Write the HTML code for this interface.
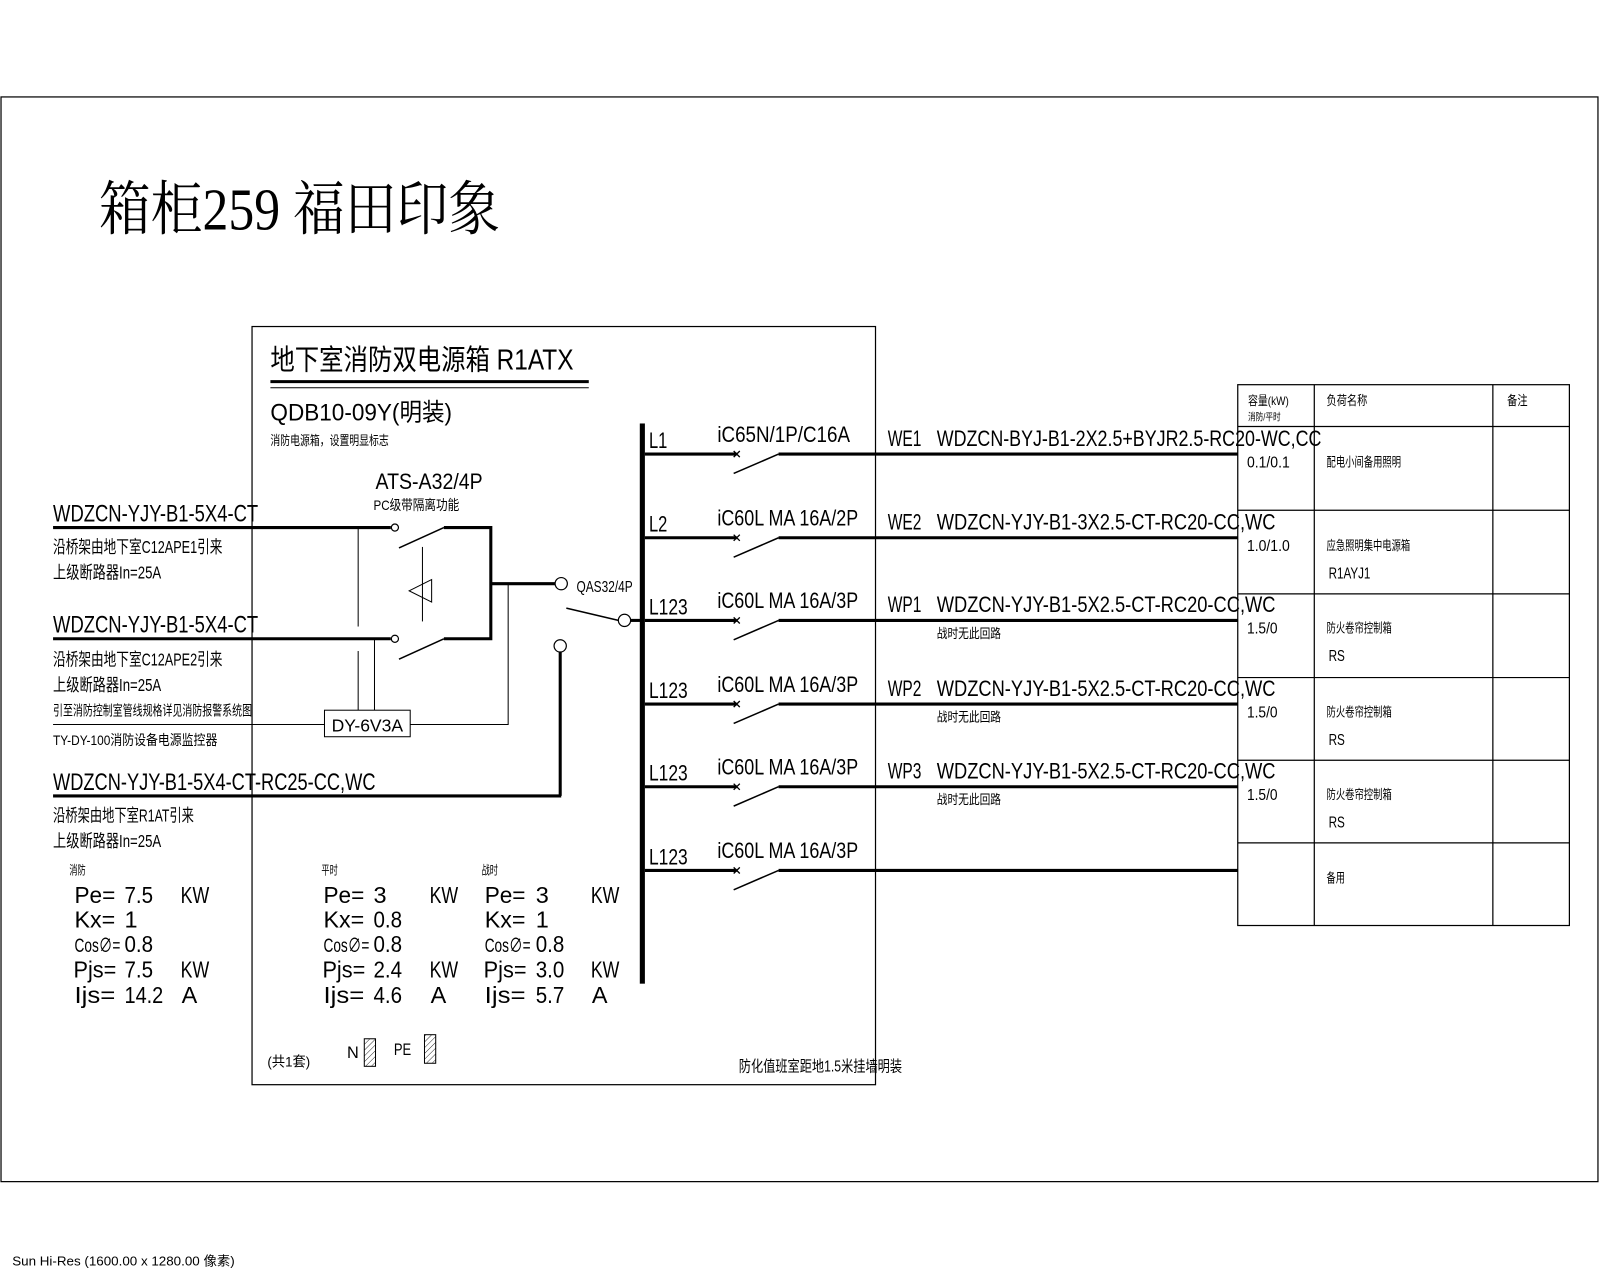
<!DOCTYPE html>
<html><head><meta charset="utf-8"><style>
html,body{margin:0;padding:0;background:#fff;width:1600px;height:1280px;overflow:hidden}
svg{display:block}
text{font-family:"Liberation Sans","Noto Sans CJK SC",sans-serif;fill:#000}
.s{font-family:"Liberation Serif","Noto Serif CJK SC",serif}
</style></head><body>
<svg width="1600" height="1280" viewBox="0 0 1568 1254.4" xmlns="http://www.w3.org/2000/svg">
<defs><pattern id="h" width="4" height="4" patternUnits="userSpaceOnUse" patternTransform="rotate(45)"><line x1="0" y1="0" x2="0" y2="4" stroke="#000" stroke-width="0.8"/></pattern></defs>
<rect x="1" y="95" width="1565" height="1063" fill="none" stroke="#000" stroke-width="1.2"/>
<text x="12" y="1240" font-size="13" textLength="218" lengthAdjust="spacingAndGlyphs">Sun Hi-Res (1600.00 x 1280.00 像素)</text>
<text class="s" x="97" y="225" font-size="58" textLength="393" lengthAdjust="spacingAndGlyphs">箱柜259 福田印象</text>

<rect x="247" y="320" width="611" height="743" fill="none" stroke="#000" stroke-width="1.2"/>
<text x="265" y="362" font-size="28" textLength="297" lengthAdjust="spacingAndGlyphs">地下室消防双电源箱 R1ATX</text>
<line x1="265" y1="374" x2="577" y2="374" stroke="#000" stroke-width="3"/>
<line x1="265" y1="380" x2="577" y2="380" stroke="#000" stroke-width="1"/>
<text x="265" y="412" font-size="24" textLength="178" lengthAdjust="spacingAndGlyphs">QDB10-09Y(明装)</text>
<text x="265" y="436" font-size="13" textLength="116" lengthAdjust="spacingAndGlyphs">消防电源箱，设置明显标志</text>

<text x="368" y="479" font-size="22" textLength="105" lengthAdjust="spacingAndGlyphs">ATS-A32/4P</text>
<text x="366" y="500" font-size="14" textLength="84" lengthAdjust="spacingAndGlyphs">PC级带隔离功能</text>

<!-- inputs -->
<text x="52" y="511" font-size="24" textLength="201" lengthAdjust="spacingAndGlyphs">WDZCN-YJY-B1-5X4-CT</text>
<line x1="52" y1="517" x2="383" y2="517" stroke="#000" stroke-width="3"/>
<circle cx="387" cy="517" r="3.5" fill="#fff" stroke="#000" stroke-width="1.2"/>
<text x="52" y="542" font-size="17" textLength="166" lengthAdjust="spacingAndGlyphs">沿桥架由地下室C12APE1引来</text>
<text x="52" y="567" font-size="17" textLength="106" lengthAdjust="spacingAndGlyphs">上级断路器In=25A</text>

<text x="52" y="620" font-size="24" textLength="201" lengthAdjust="spacingAndGlyphs">WDZCN-YJY-B1-5X4-CT</text>
<line x1="52" y1="626" x2="383" y2="626" stroke="#000" stroke-width="3"/>
<circle cx="387" cy="626" r="3.5" fill="#fff" stroke="#000" stroke-width="1.2"/>
<text x="52" y="652" font-size="17" textLength="166" lengthAdjust="spacingAndGlyphs">沿桥架由地下室C12APE2引来</text>
<text x="52" y="677" font-size="17" textLength="106" lengthAdjust="spacingAndGlyphs">上级断路器In=25A</text>
<text x="52" y="701" font-size="14" textLength="195" lengthAdjust="spacingAndGlyphs">引至消防控制室管线规格详见消防报警系统图</text>
<text x="52" y="730" font-size="14" textLength="161" lengthAdjust="spacingAndGlyphs">TY-DY-100消防设备电源监控器</text>

<g stroke="#000" stroke-width="1" fill="none">
<line x1="351" y1="517" x2="351" y2="614"/>
<line x1="351" y1="638" x2="351" y2="696"/>
<line x1="367" y1="626" x2="367" y2="696"/>
<rect x="318" y="696" width="84" height="26"/>
<line x1="52" y1="710" x2="318" y2="710"/>
<polyline points="402,710 498,710 498,572"/>
<line x1="391" y1="537" x2="435" y2="517" stroke-width="1.5"/>
<line x1="391" y1="646" x2="435" y2="626" stroke-width="1.5"/>
<line x1="414" y1="536" x2="414" y2="609"/>
<polygon points="401,579 423,568 423,590"/>
</g>
<text x="325" y="717" font-size="17" textLength="70" lengthAdjust="spacingAndGlyphs">DY-6V3A</text>
<g stroke="#000" stroke-width="3" fill="none">
<polyline points="435,517 481,517 481,626 435,626"/>
<line x1="481" y1="572" x2="544" y2="572"/>
<line x1="549" y1="639" x2="549" y2="780"/>
<line x1="52" y1="780" x2="550" y2="780"/>
<line x1="618" y1="608" x2="630" y2="608"/>
</g>
<circle cx="550" cy="572" r="6" fill="#fff" stroke="#000" stroke-width="1.2"/>
<line x1="555" y1="596" x2="606" y2="608" stroke="#000" stroke-width="1.5"/>
<circle cx="612" cy="608" r="6" fill="#fff" stroke="#000" stroke-width="1.2"/>
<circle cx="549" cy="633" r="6" fill="#fff" stroke="#000" stroke-width="1.2"/>
<text x="565" y="580" font-size="15" textLength="55" lengthAdjust="spacingAndGlyphs">QAS32/4P</text>

<text x="52" y="774" font-size="24" textLength="316" lengthAdjust="spacingAndGlyphs">WDZCN-YJY-B1-5X4-CT-RC25-CC,WC</text>
<text x="52" y="805" font-size="17" textLength="138" lengthAdjust="spacingAndGlyphs">沿桥架由地下室R1AT引来</text>
<text x="52" y="830" font-size="17" textLength="106" lengthAdjust="spacingAndGlyphs">上级断路器In=25A</text>

<!-- stats -->
<g font-size="23">
<text x="68" y="857" font-size="12" textLength="16" lengthAdjust="spacingAndGlyphs">消防</text>
<text x="315" y="857" font-size="12" textLength="16" lengthAdjust="spacingAndGlyphs">平时</text>
<text x="472" y="857" font-size="12" textLength="16" lengthAdjust="spacingAndGlyphs">战时</text>

<text x="73" y="885" textLength="40" lengthAdjust="spacingAndGlyphs">Pe=</text><text x="122" y="885" textLength="28" lengthAdjust="spacingAndGlyphs">7.5</text><text x="177" y="885" textLength="28" lengthAdjust="spacingAndGlyphs">KW</text>
<text x="73" y="909" textLength="40" lengthAdjust="spacingAndGlyphs">Kx=</text><text x="122" y="909">1</text>
<text x="73" y="933" font-size="19" textLength="45" lengthAdjust="spacingAndGlyphs">Cos∅=</text><text x="122" y="933" textLength="28" lengthAdjust="spacingAndGlyphs">0.8</text>
<text x="72" y="958" textLength="42" lengthAdjust="spacingAndGlyphs">Pjs=</text><text x="122" y="958" textLength="28" lengthAdjust="spacingAndGlyphs">7.5</text><text x="177" y="958" textLength="28" lengthAdjust="spacingAndGlyphs">KW</text>
<text x="73" y="983" textLength="40" lengthAdjust="spacingAndGlyphs">Ijs=</text><text x="122" y="983" textLength="38" lengthAdjust="spacingAndGlyphs">14.2</text><text x="178" y="983">A</text>

<text x="317" y="885" textLength="40" lengthAdjust="spacingAndGlyphs">Pe=</text><text x="366" y="885">3</text><text x="421" y="885" textLength="28" lengthAdjust="spacingAndGlyphs">KW</text>
<text x="317" y="909" textLength="40" lengthAdjust="spacingAndGlyphs">Kx=</text><text x="366" y="909" textLength="28" lengthAdjust="spacingAndGlyphs">0.8</text>
<text x="317" y="933" font-size="19" textLength="45" lengthAdjust="spacingAndGlyphs">Cos∅=</text><text x="366" y="933" textLength="28" lengthAdjust="spacingAndGlyphs">0.8</text>
<text x="316" y="958" textLength="42" lengthAdjust="spacingAndGlyphs">Pjs=</text><text x="366" y="958" textLength="28" lengthAdjust="spacingAndGlyphs">2.4</text><text x="421" y="958" textLength="28" lengthAdjust="spacingAndGlyphs">KW</text>
<text x="317" y="983" textLength="40" lengthAdjust="spacingAndGlyphs">Ijs=</text><text x="366" y="983" textLength="28" lengthAdjust="spacingAndGlyphs">4.6</text><text x="422" y="983">A</text>

<text x="475" y="885" textLength="40" lengthAdjust="spacingAndGlyphs">Pe=</text><text x="525" y="885">3</text><text x="579" y="885" textLength="28" lengthAdjust="spacingAndGlyphs">KW</text>
<text x="475" y="909" textLength="40" lengthAdjust="spacingAndGlyphs">Kx=</text><text x="525" y="909">1</text>
<text x="475" y="933" font-size="19" textLength="45" lengthAdjust="spacingAndGlyphs">Cos∅=</text><text x="525" y="933" textLength="28" lengthAdjust="spacingAndGlyphs">0.8</text>
<text x="474" y="958" textLength="42" lengthAdjust="spacingAndGlyphs">Pjs=</text><text x="525" y="958" textLength="28" lengthAdjust="spacingAndGlyphs">3.0</text><text x="579" y="958" textLength="28" lengthAdjust="spacingAndGlyphs">KW</text>
<text x="475" y="983" textLength="40" lengthAdjust="spacingAndGlyphs">Ijs=</text><text x="525" y="983" textLength="28" lengthAdjust="spacingAndGlyphs">5.7</text><text x="580" y="983">A</text>
</g>
<text x="262" y="1045" font-size="14" textLength="42" lengthAdjust="spacingAndGlyphs">(共1套)</text>
<text x="340" y="1037" font-size="16">N</text>
<rect x="357" y="1018" width="11" height="27" fill="url(#h)" stroke="#000" stroke-width="1"/>
<text x="386" y="1034" font-size="16" textLength="17" lengthAdjust="spacingAndGlyphs">PE</text>
<rect x="416" y="1014" width="11" height="28" fill="url(#h)" stroke="#000" stroke-width="1"/>
<text x="724" y="1050" font-size="15" textLength="160" lengthAdjust="spacingAndGlyphs">防化值班室距地1.5米挂墙明装</text>

<!-- busbar -->
<rect x="627" y="415" width="5" height="549" fill="#000"/>

<!-- circuits -->
<g id="c1">
<text x="636" y="439" font-size="22" textLength="18" lengthAdjust="spacingAndGlyphs">L1</text>
<text x="703" y="433" font-size="22" textLength="130" lengthAdjust="spacingAndGlyphs">iC65N/1P/C16A</text>
<text x="870" y="437" font-size="22" textLength="33" lengthAdjust="spacingAndGlyphs">WE1</text>
<text x="918" y="437" font-size="22" textLength="377" lengthAdjust="spacingAndGlyphs">WDZCN-BYJ-B1-2X2.5+BYJR2.5-RC20-WC,CC</text>
</g>
<text x="636" y="521" font-size="22" textLength="18" lengthAdjust="spacingAndGlyphs">L2</text>
<text x="703" y="515" font-size="22" textLength="138" lengthAdjust="spacingAndGlyphs">iC60L MA 16A/2P</text>
<text x="870" y="519" font-size="22" textLength="33" lengthAdjust="spacingAndGlyphs">WE2</text>
<text x="918" y="519" font-size="22" textLength="332" lengthAdjust="spacingAndGlyphs">WDZCN-YJY-B1-3X2.5-CT-RC20-CC,WC</text>

<text x="636" y="602" font-size="22" textLength="38" lengthAdjust="spacingAndGlyphs">L123</text>
<text x="703" y="596" font-size="22" textLength="138" lengthAdjust="spacingAndGlyphs">iC60L MA 16A/3P</text>
<text x="870" y="600" font-size="22" textLength="33" lengthAdjust="spacingAndGlyphs">WP1</text>
<text x="918" y="600" font-size="22" textLength="332" lengthAdjust="spacingAndGlyphs">WDZCN-YJY-B1-5X2.5-CT-RC20-CC,WC</text>
<text x="918" y="625" font-size="13" textLength="63" lengthAdjust="spacingAndGlyphs">战时无此回路</text>

<text x="636" y="684" font-size="22" textLength="38" lengthAdjust="spacingAndGlyphs">L123</text>
<text x="703" y="678" font-size="22" textLength="138" lengthAdjust="spacingAndGlyphs">iC60L MA 16A/3P</text>
<text x="870" y="682" font-size="22" textLength="33" lengthAdjust="spacingAndGlyphs">WP2</text>
<text x="918" y="682" font-size="22" textLength="332" lengthAdjust="spacingAndGlyphs">WDZCN-YJY-B1-5X2.5-CT-RC20-CC,WC</text>
<text x="918" y="707" font-size="13" textLength="63" lengthAdjust="spacingAndGlyphs">战时无此回路</text>

<text x="636" y="765" font-size="22" textLength="38" lengthAdjust="spacingAndGlyphs">L123</text>
<text x="703" y="759" font-size="22" textLength="138" lengthAdjust="spacingAndGlyphs">iC60L MA 16A/3P</text>
<text x="870" y="763" font-size="22" textLength="33" lengthAdjust="spacingAndGlyphs">WP3</text>
<text x="918" y="763" font-size="22" textLength="332" lengthAdjust="spacingAndGlyphs">WDZCN-YJY-B1-5X2.5-CT-RC20-CC,WC</text>
<text x="918" y="788" font-size="13" textLength="63" lengthAdjust="spacingAndGlyphs">战时无此回路</text>

<text x="636" y="847" font-size="22" textLength="38" lengthAdjust="spacingAndGlyphs">L123</text>
<text x="703" y="841" font-size="22" textLength="138" lengthAdjust="spacingAndGlyphs">iC60L MA 16A/3P</text>

<g stroke="#000" fill="none">
<path d="M632 445H722M763 445H1213 M632 527H722M763 527H1213 M632 608H722M763 608H1213 M632 690H722M763 690H1213 M632 771H722M763 771H1213 M632 853H722M763 853H1213" stroke-width="3"/>
<path d="M719 464L763 445 M719 546L763 527 M719 627L763 608 M719 709L763 690 M719 790L763 771 M719 872L763 853" stroke-width="1.5"/>
<path d="M719 442L725 448M725 442L719 448 M719 524L725 530M725 524L719 530 M719 605L725 611M725 605L719 611 M719 687L725 693M725 687L719 693 M719 768L725 774M725 768L719 774 M719 850L725 856M725 850L719 856" stroke-width="1.3"/>
</g>

<!-- table -->
<g stroke="#000" stroke-width="1.2" fill="none">
<rect x="1213" y="377" width="325" height="530"/>
<path d="M1288 377V907M1463 377V907 M1213 418H1538M1213 500H1538M1213 582H1538M1213 664H1538M1213 745H1538M1213 826H1538"/>
</g>
<text x="1223" y="397" font-size="12" textLength="40" lengthAdjust="spacingAndGlyphs">容量(kW)</text>
<text x="1223" y="412" font-size="10" textLength="32" lengthAdjust="spacingAndGlyphs">消防/平时</text>
<text x="1300" y="397" font-size="13" textLength="40" lengthAdjust="spacingAndGlyphs">负荷名称</text>
<text x="1477" y="397" font-size="13" textLength="20" lengthAdjust="spacingAndGlyphs">备注</text>
<g font-size="15">
<text x="1222" y="458" textLength="42" lengthAdjust="spacingAndGlyphs">0.1/0.1</text>
<text x="1300" y="457" font-size="13" textLength="73" lengthAdjust="spacingAndGlyphs">配电小间备用照明</text>
<text x="1222" y="540" textLength="42" lengthAdjust="spacingAndGlyphs">1.0/1.0</text>
<text x="1300" y="539" font-size="13" textLength="82" lengthAdjust="spacingAndGlyphs">应急照明集中电源箱</text>
<text x="1302" y="567" textLength="41" lengthAdjust="spacingAndGlyphs">R1AYJ1</text>
<text x="1222" y="621" textLength="30" lengthAdjust="spacingAndGlyphs">1.5/0</text>
<text x="1300" y="620" font-size="13" textLength="64" lengthAdjust="spacingAndGlyphs">防火卷帘控制箱</text>
<text x="1302" y="648" textLength="16" lengthAdjust="spacingAndGlyphs">RS</text>
<text x="1222" y="703" textLength="30" lengthAdjust="spacingAndGlyphs">1.5/0</text>
<text x="1300" y="702" font-size="13" textLength="64" lengthAdjust="spacingAndGlyphs">防火卷帘控制箱</text>
<text x="1302" y="730" textLength="16" lengthAdjust="spacingAndGlyphs">RS</text>
<text x="1222" y="784" textLength="30" lengthAdjust="spacingAndGlyphs">1.5/0</text>
<text x="1300" y="783" font-size="13" textLength="64" lengthAdjust="spacingAndGlyphs">防火卷帘控制箱</text>
<text x="1302" y="811" textLength="16" lengthAdjust="spacingAndGlyphs">RS</text>
<text x="1300" y="865" font-size="13" textLength="18" lengthAdjust="spacingAndGlyphs">备用</text>
</g>
</svg>
</body></html>
